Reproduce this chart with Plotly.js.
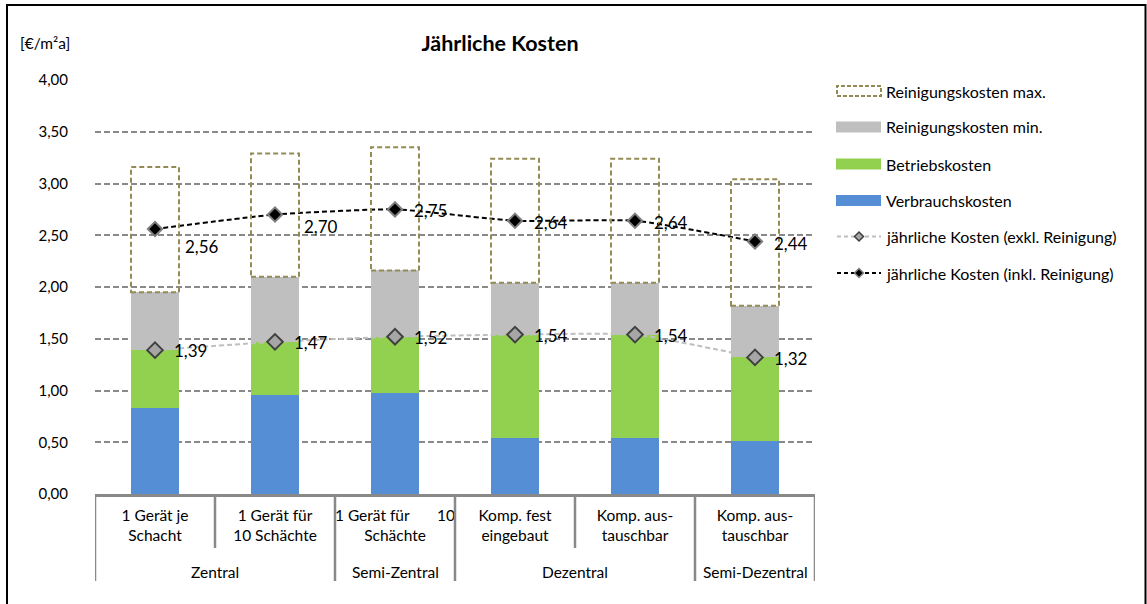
<!DOCTYPE html>
<html>
<head>
<meta charset="utf-8">
<script src="https://cdn.plot.ly/plotly-3.0.1.min.js"></script>
<style>
html,body{margin:0;padding:0;background:#fff;}
#chart{width:1147px;height:604px;}
</style>
</head>
<body>
<div id="chart"></div>
<script>
// ---- data ----
const subLabels = [
  "1 Gerät je<br>Schacht",
  "1 Gerät für<br>10 Schächte",
  "1 Gerät für\u00a0\u00a0\u00a0\u00a0\u00a0\u00a0\u00a010<br>Schächte",
  "Komp. fest<br>eingebaut",
  "Komp. aus-<br>tauschbar",
  "Komp. aus-<br>tauschbar"
];
const groups = ["Zentral", "Zentral", "Semi-Zentral", "Dezentral", "Dezentral", "Semi-Dezentral"];
const verbrauchskosten = [0.83, 0.96, 0.98, 0.54, 0.54, 0.51];
const betriebskosten   = [0.56, 0.51, 0.54, 1.00, 1.00, 0.81];
const reinigungMin     = [0.56, 0.63, 0.64, 0.50, 0.50, 0.50];
const reinigungMax     = [1.21, 1.19, 1.19, 1.20, 1.20, 1.22];
const kostenExkl       = [1.39, 1.47, 1.52, 1.54, 1.54, 1.32];
const kostenInkl       = [2.56, 2.70, 2.75, 2.64, 2.64, 2.44];
const legendNames = [
  "Reinigungskosten max.", "Reinigungskosten min.", "Betriebskosten",
  "Verbrauchskosten", "jährliche Kosten (exkl. Reinigung)", "jährliche Kosten (inkl. Reinigung)"
];

// ---- styles ----
const FONT = "Lato, 'Open Sans', sans-serif";
const C_BLUE = "#558ED5", C_GREEN = "#92D050", C_GREY = "#BFBFBF", C_OLIVE = "#948A54";
const C_AXIS = "#898989";
const BAR_W = 0.4;
// label offsets (pixels) for point labels
const inklShift = [[28, -17], [27, -12], [17, -1], [17, -2], [17, -2], [17, -2]];
const exklShift = [[17, 0], [17, -1], [17, -1], [17, -1], [17, -1], [17, -1]];

// plot area in pixels (for paper-coordinate helpers)
const L = 95, R = 815, T = 80, B = 494;
const px = x => (x - L) / (R - L);
const py = y => (B - y) / (B - T);

const xIdx = subLabels.map((_, i) => i);

const traces = [
  {type: "bar", x: xIdx, y: verbrauchskosten, name: legendNames[3], width: BAR_W,
   marker: {color: C_BLUE, line: {width: 0}}, showlegend: false},
  {type: "bar", x: xIdx, y: betriebskosten, name: legendNames[2], width: BAR_W,
   marker: {color: C_GREEN, line: {width: 0}}, showlegend: false},
  {type: "bar", x: xIdx, y: reinigungMin, name: legendNames[1], width: BAR_W,
   marker: {color: C_GREY, line: {width: 0}}, showlegend: false},
  {type: "bar", x: xIdx, y: reinigungMax, name: legendNames[0], width: BAR_W,
   marker: {color: "rgba(0,0,0,0)", line: {width: 0}}, showlegend: false},
  {type: "scatter", mode: "lines+markers", x: xIdx, y: kostenExkl, name: legendNames[4],
   line: {color: "#BFBFBF", width: 2, dash: "5px,3px", shape: "spline", smoothing: 0.5},
   marker: {symbol: "diamond", size: 12, color: "#A6A6A6", line: {color: "#404040", width: 2}},
   showlegend: false},
  {type: "scatter", mode: "lines+markers", x: xIdx, y: kostenInkl, name: legendNames[5],
   line: {color: "#000000", width: 2, dash: "5px,3px", shape: "spline", smoothing: 0.5},
   marker: {symbol: "diamond", size: 11, color: "#000000", line: {color: "#7F7F7F", width: 2}},
   showlegend: false}
];

const shapes = [];
const annotations = [];

// dashed boxes for max cleaning cost
xIdx.forEach(i => {
  const base = verbrauchskosten[i] + betriebskosten[i] + reinigungMin[i];
  shapes.push({type: "rect", xref: "x", yref: "y", x0: i - BAR_W / 2, x1: i + BAR_W / 2,
    y0: base, y1: base + reinigungMax[i], line: {color: C_OLIVE, width: 2, dash: "5px,3px"},
    fillcolor: "rgba(0,0,0,0)", layer: "above"});
});

// category dividers (sub level short, group level long)
const subBottom = py(548), grpBottom = py(581);
for (let b = 0; b <= xIdx.length; b++) {
  const isGroup = b === 0 || b === xIdx.length || groups[b] !== groups[b - 1];
  shapes.push({type: "line", xref: "x", yref: "paper", x0: b - 0.5, x1: b - 0.5,
    y0: 0, y1: isGroup ? grpBottom : subBottom, line: {color: C_AXIS, width: 2.5}});
}
// group labels
let start = 0;
for (let i = 1; i <= groups.length; i++) {
  if (i === groups.length || groups[i] !== groups[start]) {
    annotations.push({xref: "x", yref: "paper", x: (start + i - 1) / 2, y: py(572),
      text: groups[start], showarrow: false, xanchor: "center", yanchor: "middle",
      font: {family: FONT, size: 15.5, color: "#000"}});
    start = i;
  }
}

// point labels
const fmt = v => v.toFixed(2).replace(".", ",");
xIdx.forEach(i => {
  annotations.push({x: i, y: kostenInkl[i], xref: "x", yref: "y", text: fmt(kostenInkl[i]),
    showarrow: false, xanchor: "left", yanchor: "middle", xshift: inklShift[i][0], yshift: inklShift[i][1],
    font: {family: FONT, size: 17, color: "#000"}});
  annotations.push({x: i, y: kostenExkl[i], xref: "x", yref: "y", text: fmt(kostenExkl[i]),
    showarrow: false, xanchor: "left", yanchor: "middle", xshift: exklShift[i][0], yshift: exklShift[i][1],
    font: {family: FONT, size: 17, color: "#000"}});
});

// axis unit label
annotations.push({xref: "paper", yref: "paper", x: px(18), y: py(43), text: "[€/m²a]",
  showarrow: false, xanchor: "left", yanchor: "middle", font: {family: FONT, size: 15.5, color: "#000"}});

// manual legend
const legY = [91, 127, 164, 200.5, 236.5, 273];
const symX0 = 837, symX1 = 881, textX = 884;
shapes.push({type: "rect", xref: "paper", yref: "paper", x0: px(symX0), x1: px(symX1),
  y0: py(legY[0] + 5), y1: py(legY[0] - 5), line: {color: C_OLIVE, width: 2, dash: "4px,2px"}, fillcolor: "rgba(0,0,0,0)"});
[[1, C_GREY], [2, C_GREEN], [3, C_BLUE]].forEach(([k, c]) => {
  shapes.push({type: "rect", xref: "paper", yref: "paper", x0: px(symX0 - 1), x1: px(symX1),
    y0: py(legY[k] + 5.5), y1: py(legY[k] - 5.5), line: {width: 0}, fillcolor: c});
});
[[4, "#BFBFBF", "#A6A6A6", "#404040"], [5, "#000000", "#000000", "#7F7F7F"]].forEach(([k, lc, fc, oc]) => {
  shapes.push({type: "line", xref: "paper", yref: "paper", x0: px(symX0), x1: px(symX1),
    y0: py(legY[k]), y1: py(legY[k]), line: {color: lc, width: 2, dash: "4px,3px"}});
  const cx = (symX0 + symX1) / 2, cy = legY[k], h = 4.5;
  const path = `M${px(cx - h)},${py(cy)} L${px(cx)},${py(cy - h)} L${px(cx + h)},${py(cy)} L${px(cx)},${py(cy + h)} Z`;
  shapes.push({type: "path", xref: "paper", yref: "paper", path: path,
    line: {color: oc, width: 1.5}, fillcolor: fc});
});
legendNames.forEach((n, k) => {
  annotations.push({xref: "paper", yref: "paper", x: px(textX), y: py(legY[k]), text: n,
    showarrow: false, xanchor: "left", yanchor: "middle", font: {family: FONT, size: 16, color: "#000"}});
});

// chart border (left, top, right)
shapes.push({type: "line", xref: "paper", yref: "paper", x0: px(7), x1: px(7), y0: py(4), y1: py(610), line: {color: "#000", width: 2}});
shapes.push({type: "line", xref: "paper", yref: "paper", x0: px(6), x1: px(1146), y0: py(5), y1: py(5), line: {color: "#000", width: 2}});
shapes.push({type: "line", xref: "paper", yref: "paper", x0: px(1145.5), x1: px(1145.5), y0: py(4), y1: py(610), line: {color: "#000", width: 2}});

const layout = {
  width: 1147, height: 604,
  margin: {l: L, r: 1147 - R, t: T, b: 604 - B, pad: 0},
  paper_bgcolor: "#fff", plot_bgcolor: "#fff",
  separators: ",.",
  barmode: "stack",
  showlegend: false,
  font: {family: FONT, size: 15, color: "#000"},
  title: {text: "<b>Jährliche Kosten</b>", x: 500 / 1147, xref: "container", xanchor: "center",
    y: 1 - 43 / 604, yref: "container", yanchor: "middle", font: {family: FONT, size: 21.5, color: "#000"}},
  xaxis: {type: "linear", range: [-0.5, 5.5], tickvals: xIdx, ticktext: subLabels,
    showgrid: false, zeroline: false, showline: true, linecolor: C_AXIS, linewidth: 2.5,
    ticks: "", ticklabelstandoff: 6, tickfont: {family: FONT, size: 15.5, color: "#000"}, fixedrange: true},
  yaxis: {range: [0, 4], dtick: 0.5, tick0: 0, tickformat: ".2f", showline: false, zeroline: false,
    showgrid: true, gridcolor: C_AXIS, gridwidth: 2, griddash: "6px,3px", ticks: "",
    ticklabelstandoff: 26, tickfont: {family: FONT, size: 15, color: "#000"}, fixedrange: true},
  shapes: shapes,
  annotations: annotations
};

Plotly.newPlot("chart", traces, layout, {displayModeBar: false, staticPlot: true});
</script>
</body>
</html>
